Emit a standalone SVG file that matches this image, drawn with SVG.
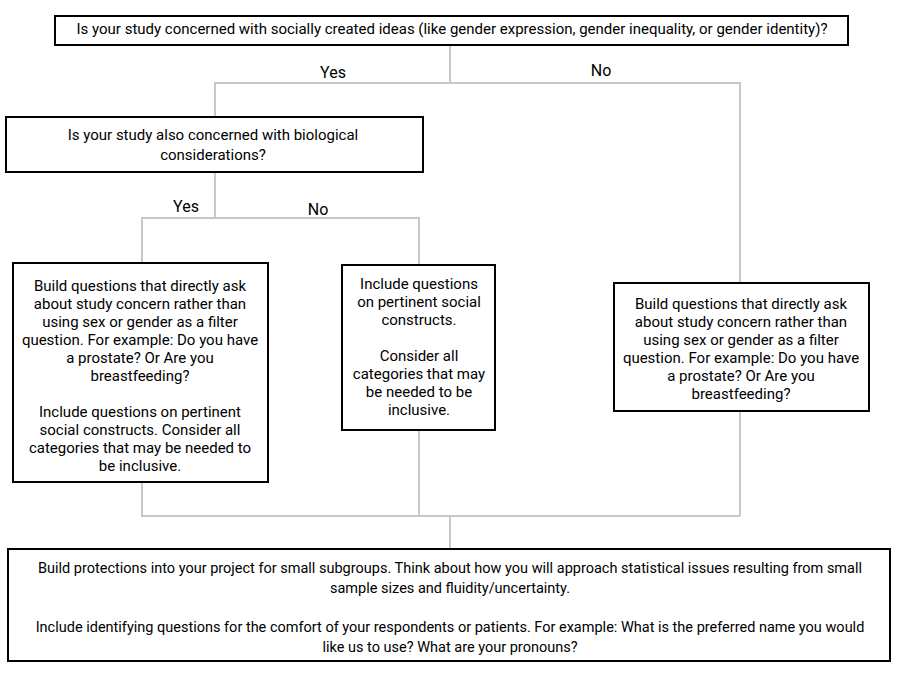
<svg xmlns="http://www.w3.org/2000/svg" width="900" height="675" viewBox="0 0 900 675">
<style>
.box{fill:#fff;stroke:#000;stroke-width:2}
.con{fill:none;stroke:#c8c8c8;stroke-width:2}
text{font-family:Roboto,"Liberation Sans",sans-serif;fill:#000;text-anchor:middle}
.t15{font-size:15px}
.lab{font-size:16px}
.t145{font-size:14.5px}
</style>
<rect width="900" height="675" fill="#fff"/>
<g id="connectors">
<polyline class="con" points="450,45 450,83"/>
<polyline class="con" points="215,118 215,83 740,83 740,516"/>
<polyline class="con" points="215,172 215,218"/>
<polyline class="con" points="142,263 142,218 419,218 419,265"/>
<polyline class="con" points="142,482 142,516 740,516"/>
<polyline class="con" points="419,430 419,516"/>
<polyline class="con" points="450,516 450,549"/>
<text class="lab" x="333" y="78">Yes</text>
<text class="lab" x="601" y="76">No</text>
<text class="lab" x="186" y="212">Yes</text>
<text class="lab" x="318" y="215">No</text>
</g>
<g id="q1">
<rect class="box" x="55" y="16" width="793" height="29"/>
<text class="t15" x="452" y="34">Is your study concerned with socially created ideas (like gender expression, gender inequality, or gender identity)?</text>
</g>
<g id="q2">
<rect class="box" x="6" y="117" width="417" height="55"/>
<text class="t15" x="213" y="140">Is your study also concerned with biological</text>
<text class="t15" x="213" y="160">considerations?</text>
</g>
<g id="yesyes">
<rect class="box" x="13" y="263" width="255" height="219"/>
<text class="t15"><tspan x="140" y="291">Build questions that directly ask</tspan><tspan x="140" y="309">about study concern rather than</tspan><tspan x="140" y="327">using sex or gender as a filter</tspan><tspan x="140" y="345">question. For example: Do you have</tspan><tspan x="140" y="363">a prostate? Or Are you</tspan><tspan x="140" y="381">breastfeeding?</tspan><tspan x="140" y="417">Include questions on pertinent</tspan><tspan x="140" y="435">social constructs. Consider all</tspan><tspan x="140" y="453">categories that may be needed to</tspan><tspan x="140" y="471">be inclusive.</tspan></text>
</g>
<g id="yesno">
<rect class="box" x="342" y="265" width="153" height="165"/>
<text class="t15"><tspan x="419" y="289">Include questions</tspan><tspan x="419" y="307">on pertinent social</tspan><tspan x="419" y="325">constructs.</tspan><tspan x="419" y="361">Consider all</tspan><tspan x="419" y="379">categories that may</tspan><tspan x="419" y="397">be needed to be</tspan><tspan x="419" y="415">inclusive.</tspan></text>
</g>
<g id="no">
<rect class="box" x="614" y="283" width="255" height="128"/>
<text class="t15"><tspan x="741" y="309">Build questions that directly ask</tspan><tspan x="741" y="327">about study concern rather than</tspan><tspan x="741" y="345">using sex or gender as a filter</tspan><tspan x="741" y="363">question. For example: Do you have</tspan><tspan x="741" y="381">a prostate? Or Are you</tspan><tspan x="741" y="399">breastfeeding?</tspan></text>
</g>
<g id="final">
<rect class="box" x="8" y="549" width="882" height="112"/>
<text class="t145"><tspan x="450" y="573">Build protections into your project for small subgroups. Think about how you will approach statistical issues resulting from small</tspan><tspan x="450" y="593">sample sizes and fluidity/uncertainty.</tspan><tspan x="450" y="632">Include identifying questions for the comfort of your respondents or patients. For example: What is the preferred name you would</tspan><tspan x="450" y="652">like us to use? What are your pronouns?</tspan></text>
</g>
</svg>
